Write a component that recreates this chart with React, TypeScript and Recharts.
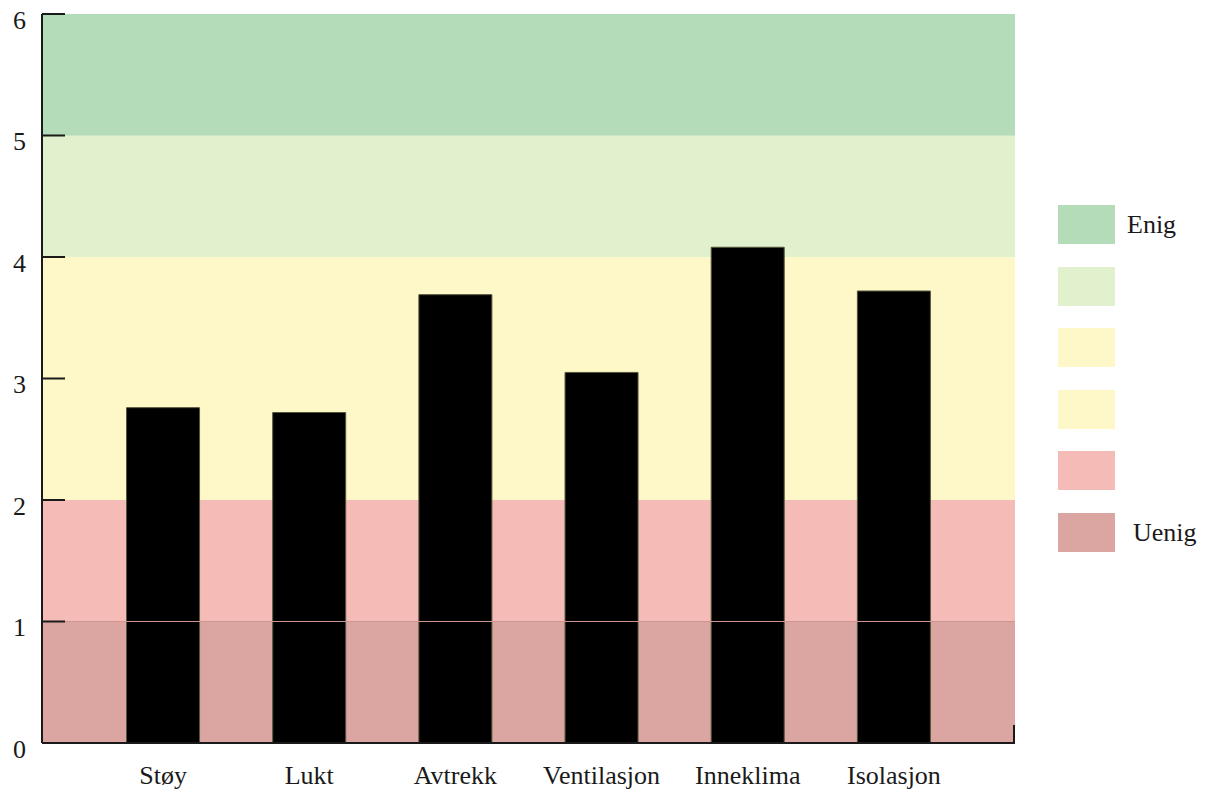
import { BarChart, Bar, XAxis, YAxis, ReferenceArea, usePlotArea } from 'recharts'

const categories = ['Støy', 'Lukt', 'Avtrekk', 'Ventilasjon', 'Inneklima', 'Isolasjon']
const scores = [2.76, 2.72, 3.69, 3.05, 4.08, 3.72]
const yTicks = [0, 1, 2, 3, 4, 5, 6]

// bakgrunnsbånd: øvre grense og farge, tegnes fra 0 og oppover, størst først
const bandTop = [6, 5, 4, 2, 1]
const bandColors = ['#b4dcb9', '#e1f0cd', '#fef8c8', '#f5bcb7', '#dba5a1']

// forklaring
const legendColors = ['#b4dcb9', '#e1f0cd', '#fef8c8', '#fef8c8', '#f5bcb7', '#dba5a1']
const legendLabels = ['Enig', '', '', '', '', 'Uenig']

const serif = '"Liberation Serif", "Times New Roman", serif'
const ink = '#1a1a1a'

const data = categories.map((c, i) => ({ name: c, value: scores[i] }))

function YTick({ x, y, payload }: any) {
  const area = usePlotArea()
  const right = area ? area.x + area.width - 1 : 0
  return (
    <g>
      {payload.value === 1 && area && (
        <line x1={x} x2={right + 1} y1={y} y2={y} stroke="#cf9590" strokeWidth={1} />
      )}
      <line x1={x} x2={x + 23} y1={y} y2={y} stroke={ink} strokeWidth={2} />
      {payload.value === 0 && area && (
        <line x1={right} x2={right} y1={y} y2={y - 18} stroke={ink} strokeWidth={2} />
      )}
      <text x={x - 16} y={y + 9} textAnchor="end" dominantBaseline="middle" fontFamily={serif} fontSize={26} fill={ink}>
        {payload.value}
      </text>
    </g>
  )
}

function XTick({ x, y, payload }: any) {
  return (
    <text x={x} y={y + 27} textAnchor="middle" dominantBaseline="middle" fontFamily={serif} fontSize={26} fill={ink}>
      {payload.value}
    </text>
  )
}

function LegendBox() {
  return (
    <div style={{ position: 'absolute', left: 1058, top: 205, width: 150, height: 350 }}>
      {legendColors.map((c, i) => (
        <div key={i} style={{ position: 'absolute', left: 0, top: i * 61.6, display: 'flex', alignItems: 'center', whiteSpace: 'nowrap' }}>
          <div style={{ width: 57, height: 39, background: c }} />
          <span style={{ marginLeft: i === 0 ? 12 : 18, fontFamily: serif, fontSize: 26, color: ink }}>{legendLabels[i]}</span>
        </div>
      ))}
    </div>
  )
}

export default function App() {
  return (
    <div style={{ position: 'absolute', left: 0, top: 0, width: 1207, height: 790, background: '#fff' }}>
      <BarChart
        width={1207}
        height={790}
        data={data}
        margin={{ top: 14, right: 192, bottom: 0, left: 0 }}
        barCategoryGap="25%"
        style={{ overflow: 'visible' }}
      >
        <XAxis xAxisId="full" type="number" hide />
        {bandTop.map((t, i) => (
          <ReferenceArea key={i} xAxisId="full" y1={0} y2={t} fill={bandColors[i]} fillOpacity={1} stroke="none" />
        ))}
        <XAxis
          dataKey="name"
          height={47}
          padding={{ left: 48, right: 48 }}
          axisLine={{ stroke: ink, strokeWidth: 2 }}
          tickLine={false}
          tick={<XTick />}
          interval={0}
        />
        <YAxis
          domain={[0, 6]}
          ticks={yTicks}
          width={42}
          axisLine={{ stroke: ink, strokeWidth: 2 }}
          tickLine={false}
          tickSize={0}
          tickMargin={0}
          tick={<YTick />}
          interval={0}
        />
        <Bar dataKey="value" fill="#000" stroke="#55553a" strokeWidth={1} isAnimationActive={false} />
      </BarChart>
      <LegendBox />
    </div>
  )
}
